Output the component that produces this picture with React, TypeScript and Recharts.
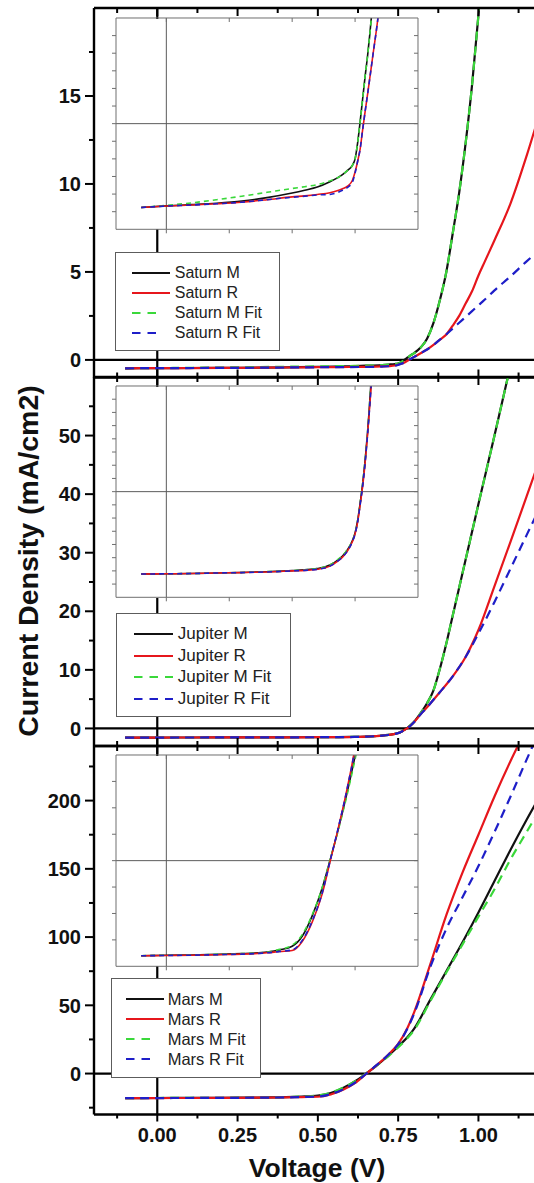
import React from 'react';
import { LineChart, Line, XAxis, YAxis, ReferenceLine, Legend } from 'recharts';

const FONT = '"Liberation Sans", Arial, Helvetica, sans-serif';

// shared voltage ticks (major every 0.25, minor in between)
const voltageTicks = [-0.125, 0, 0.125, 0.25, 0.375, 0.5, 0.625, 0.75, 0.875, 1, 1.125];
const insetVoltageTicks = [0, 0.25, 0.5, 0.75];

// Saturn
const saturnVoltage = [-0.1, 0, 0.1, 0.2, 0.3, 0.4, 0.5, 0.55, 0.6, 0.65, 0.7, 0.72, 0.74, 0.75, 0.76, 0.77, 0.78, 0.79, 0.8, 0.82, 0.84, 0.86, 0.88, 0.9, 0.92, 0.94, 0.96, 0.98, 1.0, 1.02, 1.05, 1.1, 1.15, 1.2];
const saturnM = [-0.476, -0.467, -0.46, -0.452, -0.44, -0.42, -0.394, -0.378, -0.36, -0.33, -0.29, -0.265, -0.235, -0.2, -0.11, 0.01, 0.14, 0.27, 0.39, 0.7, 1.2, 2.1, 3.4, 5.0, 7.2, 9.5, 12.3, 15.6, 19.6, 24, 31, 43, 56, 70];
const saturnMFit = [-0.476, -0.464, -0.45, -0.432, -0.412, -0.39, -0.368, -0.358, -0.346, -0.325, -0.29, -0.265, -0.235, -0.2, -0.11, 0.01, 0.14, 0.27, 0.39, 0.7, 1.2, 2.1, 3.4, 5.0, 7.2, 9.5, 12.3, 15.6, 19.6, 24, 31, 43, 56, 70];
const saturnR = [-0.476, -0.468, -0.462, -0.455, -0.446, -0.432, -0.416, -0.41, -0.402, -0.392, -0.37, -0.355, -0.32, -0.275, -0.215, -0.145, -0.035, 0.07, 0.17, 0.38, 0.59, 0.85, 1.15, 1.45, 1.95, 2.5, 3.2, 3.9, 4.8, 5.6, 6.8, 8.9, 11.6, 14.6];
const saturnRFit = [-0.476, -0.468, -0.462, -0.455, -0.446, -0.432, -0.418, -0.412, -0.405, -0.402, -0.378, -0.362, -0.33, -0.28, -0.215, -0.145, -0.035, 0.07, 0.17, 0.38, 0.59, 0.85, 1.15, 1.45, 1.78, 2.11, 2.44, 2.77, 3.1, 3.43, 3.95, 4.75, 5.6, 6.4];
const saturnYTicks = [0, 2.5, 5, 7.5, 10, 12.5, 15, 17.5];
const saturnInsetTicks = [-0.5, -0.4, -0.3, -0.2, -0.1, 0, 0.1, 0.2, 0.3, 0.4, 0.5];

// Jupiter
const jupiterVoltage = [-0.1, 0, 0.1, 0.2, 0.3, 0.4, 0.5, 0.55, 0.6, 0.65, 0.68, 0.7, 0.72, 0.74, 0.75, 0.76, 0.77, 0.78, 0.79, 0.8, 0.82, 0.84, 0.86, 0.88, 0.9, 0.92, 0.96, 1.0, 1.05, 1.1, 1.15, 1.2];
const jupiterM = [-1.56, -1.555, -1.55, -1.54, -1.53, -1.515, -1.495, -1.48, -1.455, -1.39, -1.3, -1.22, -1.1, -0.92, -0.78, -0.55, -0.22, 0.15, 0.6, 1.15, 2.6, 4.3, 6.5, 10.2, 14.5, 19.3, 28.8, 38.3, 50, 62, 74, 86];
const jupiterMFit = [-1.56, -1.555, -1.55, -1.54, -1.53, -1.515, -1.495, -1.48, -1.455, -1.39, -1.29, -1.21, -1.09, -0.92, -0.78, -0.55, -0.22, 0.15, 0.6, 1.15, 2.6, 4.3, 6.5, 10.2, 14.5, 19.3, 28.8, 38.3, 50, 62, 74, 86];
const jupiterR = [-1.56, -1.555, -1.55, -1.54, -1.532, -1.52, -1.5, -1.49, -1.47, -1.41, -1.32, -1.24, -1.12, -0.94, -0.8, -0.58, -0.25, 0.1, 0.55, 1.1, 2.4, 3.6, 4.9, 6.2, 7.5, 8.9, 12.2, 16.8, 24.3, 31.9, 39.6, 47.4];
const jupiterRFit = [-1.56, -1.555, -1.55, -1.54, -1.532, -1.52, -1.5, -1.49, -1.47, -1.41, -1.32, -1.24, -1.12, -0.94, -0.8, -0.58, -0.25, 0.1, 0.55, 1.1, 2.4, 3.6, 4.9, 6.2, 7.5, 8.9, 12.2, 16.2, 21.6, 27.3, 33, 38.7];
const jupiterYTicks = [0, 5, 10, 15, 20, 25, 30, 35, 40, 45, 50, 55];
const jupiterInsetTicks = [-1.75, -1.5, -1.25, -1, -0.75, -0.5, -0.25, 0, 0.25, 0.5, 0.75, 1, 1.25, 1.5, 1.75];

// Mars
const marsVoltage = [-0.1, 0, 0.1, 0.2, 0.3, 0.35, 0.4, 0.45, 0.5, 0.54, 0.58, 0.62, 0.65, 0.68, 0.72, 0.75, 0.78, 0.8, 0.85, 0.9, 0.95, 1.0, 1.05, 1.1, 1.15, 1.2];
const marsM = [-18.0, -17.9, -17.85, -17.75, -17.6, -17.5, -17.3, -16.9, -16.2, -14.3, -10.4, -5.1, 0, 5.3, 13.2, 19.8, 27, 33, 54, 75, 96, 118, 141, 164, 186, 207];
const marsMFit = [-18.0, -17.9, -17.85, -17.75, -17.6, -17.5, -17.3, -16.8, -16.0, -14.0, -10.2, -5.0, 0.1, 5.2, 12.8, 19.2, 26.2, 32, 53, 74, 94.5, 115, 135, 157, 177, 197];
const marsR = [-18.0, -17.95, -17.9, -17.8, -17.7, -17.6, -17.45, -17.2, -17.0, -15.3, -11.6, -6.2, -0.3, 5.5, 14, 21.7, 34, 45, 80, 116, 147, 175, 203, 229, 253, 276];
const marsRFit = [-18.0, -17.95, -17.9, -17.8, -17.7, -17.6, -17.45, -17.2, -16.9, -15.1, -11.4, -6.0, -0.2, 5.6, 14, 21.5, 33.5, 44, 78, 106, 129, 152, 177, 203, 230, 256];
const marsYTicks = [-25, 0, 25, 50, 75, 100, 125, 150, 175, 200, 225];
const marsInsetTicks = [-15, -10, -5, 0, 5, 10, 15];

const SERIES = [
  { key: 'm', suffix: 'M', color: '#111111', dash: undefined },
  { key: 'mFit', suffix: 'M Fit', color: '#3ad83a', dash: '9 6' },
  { key: 'r', suffix: 'R', color: '#e6161c', dash: undefined },
  { key: 'rFit', suffix: 'R Fit', color: '#1e1ec8', dash: '9 6' },
];
const LEGEND_ORDER = ['m', 'r', 'mFit', 'rFit'];

const PAGE_W = 534;
const PLOT_LEFT = 94;
const PAD = 10;
const X_DOMAIN = [-0.197, 1.173];
const INSET_X_DOMAIN = [-0.2, 1.0];
const INSET = { left: 115.8, width: 301, height: 210.3 };
const AXIS_LINE = { stroke: '#000', strokeWidth: 2.4 };

const panels = [
  {
    name: 'Saturn', voltage: saturnVoltage, m: saturnM, mFit: saturnMFit, r: saturnR, rFit: saturnRFit,
    yDomain: [-1, 20], yTicks: saturnYTicks, yMajor: 5,
    insetDomain: [-0.6, 0.6], insetTicks: saturnInsetTicks,
    top: 7.5, bottom: 377, insetTop: 19,
    legend: { left: 114.8, top: 251.7, width: 165, height: 99.5, sampleLeft: 16, sampleLen: 38, dashLen: 24, textLeft: 59, rowTop: 20, rowGap: 20.2, fontSize: 16 },
  },
  {
    name: 'Jupiter', voltage: jupiterVoltage, m: jupiterM, mFit: jupiterMFit, r: jupiterR, rFit: jupiterRFit,
    yDomain: [-3, 60], yTicks: jupiterYTicks, yMajor: 10,
    insetDomain: [-2, 2], insetTicks: jupiterInsetTicks,
    top: 377, bottom: 746, insetTop: 387.3,
    legend: { left: 115.8, top: 612.7, width: 175.4, height: 104, sampleLeft: 17, sampleLen: 39, dashLen: 39, textLeft: 61, rowTop: 20.8, rowGap: 21.5, fontSize: 17 },
  },
  {
    name: 'Mars', voltage: marsVoltage, m: marsM, mFit: marsMFit, r: marsR, rFit: marsRFit,
    yDomain: [-30, 240], yTicks: marsYTicks, yMajor: 50,
    insetDomain: [-20, 20], insetTicks: marsInsetTicks,
    top: 746, bottom: 1114.5, insetTop: 755.7,
    legend: { left: 110.7, top: 978.3, width: 150, height: 100, sampleLeft: 14.3, sampleLen: 38.5, dashLen: 24, textLeft: 56, rowTop: 19.6, rowGap: 20.2, fontSize: 16.5 },
  },
];

const toRows = (p: any) =>
  p.voltage.map((v: number, i: number) => ({ v, m: p.m[i], mFit: p.mFit[i], r: p.r[i], rFit: p.rFit[i] }));

const isMajor = (value: number, step: number) => Math.abs(value / step - Math.round(value / step)) < 1e-6;

function xTick(y0: number, dir: number, withLabel: boolean) {
  return (props: any) => {
    const { x, payload } = props;
    const major = isMajor(payload.value, 0.25);
    const len = withLabel ? (major ? 7 : 4) : major ? 8 : 5;
    return (
      <g>
        <line x1={x} x2={x} y1={y0} y2={y0 + dir * len} stroke="#000" strokeWidth={2} />
        {withLabel && major && (
          <text x={x} y={y0 + 27} textAnchor="middle" fontFamily={FONT} fontWeight="bold" fontSize={20} fill="#111">
            {payload.value.toFixed(2)}
          </text>
        )}
      </g>
    );
  };
}

function yTick(step: number) {
  return (props: any) => {
    const { y, payload } = props;
    const major = isMajor(payload.value, step);
    const len = major ? 9 : 5;
    return (
      <g>
        <line x1={PLOT_LEFT - len} x2={PLOT_LEFT} y1={y} y2={y} stroke="#000" strokeWidth={2} />
        {major && (
          <text x={PLOT_LEFT - 13} y={y} dy="0.36em" textAnchor="end" fontFamily={FONT} fontWeight="bold" fontSize={20} fill="#111">
            {payload.value}
          </text>
        )}
      </g>
    );
  };
}

function LegendBox({ panel }: { panel: any }) {
  const lg = panel.legend;
  return (
    <div
      style={{
        position: 'relative', boxSizing: 'border-box', width: lg.width, height: lg.height,
        border: '1.2px solid #5c5c5c', background: '#fff', fontFamily: FONT, fontSize: lg.fontSize, color: '#222',
      }}
    >
      {LEGEND_ORDER.map((key, i) => {
        const s = SERIES.find((d) => d.key === key)!;
        const cy = lg.rowTop + i * lg.rowGap;
        const len = s.dash ? lg.dashLen : lg.sampleLen;
        return (
          <React.Fragment key={key}>
            <svg style={{ position: 'absolute', left: lg.sampleLeft, top: cy - 3 }} width={len} height={6}>
              <line x1={0} x2={len} y1={3} y2={3} stroke={s.color} strokeWidth={2} strokeDasharray={s.dash ? '8.5 7' : undefined} />
            </svg>
            <span style={{ position: 'absolute', left: lg.textLeft, top: cy - 10, lineHeight: '20px', whiteSpace: 'nowrap' }}>
              {panel.name} {s.suffix}
            </span>
          </React.Fragment>
        );
      })}
    </div>
  );
}

function MainPanel({ panel, last, yTitle }: { panel: any; last: boolean; yTitle: boolean }) {
  const h = panel.bottom - panel.top;
  const below = last ? 80 : PAD;
  const chartTop = panel.top - PAD;
  const plotBottom = PAD + h;
  const lg = panel.legend;
  return (
    <div style={{ position: 'absolute', left: 0, top: chartTop }}>
      {/* x axes are 1px tall so that they render; margins take that pixel back */}
      <LineChart width={PAGE_W} height={PAD + h + below} data={toRows(panel)} margin={{ top: PAD - 1, right: 0, bottom: below - 1, left: 0 }}>
        <XAxis
          xAxisId="top" orientation="top" type="number" dataKey="v" domain={X_DOMAIN} allowDataOverflow
          height={1} ticks={voltageTicks} interval={0} tickLine={false} axisLine={AXIS_LINE} tick={xTick(PAD, 1, false)}
        />
        <XAxis
          xAxisId="bottom" orientation="bottom" type="number" dataKey="v" domain={X_DOMAIN} allowDataOverflow
          height={1} ticks={voltageTicks} interval={0} tickLine={false} axisLine={AXIS_LINE}
          tick={xTick(plotBottom, last ? 1 : -1, last)}
          label={
            last
              ? {
                  content: () => (
                    <text x={317} y={441} textAnchor="middle" fontFamily={FONT} fontWeight="bold" fontSize={26.5} fill="#111">
                      Voltage (V)
                    </text>
                  ),
                }
              : undefined
          }
        />
        <YAxis
          yAxisId="left" type="number" domain={panel.yDomain} allowDataOverflow width={PLOT_LEFT}
          ticks={panel.yTicks} interval={0} tickLine={false} axisLine={AXIS_LINE} tick={yTick(panel.yMajor)}
          label={
            yTitle
              ? {
                  content: () => (
                    <text
                      x={28} y={194} transform="rotate(-90 28 194)" textAnchor="middle" dominantBaseline="central"
                      fontFamily={FONT} fontWeight="bold" fontSize={28.5} fill="#111"
                    >
                      Current Density (mA/cm2)
                    </text>
                  ),
                }
              : undefined
          }
        />
        <ReferenceLine xAxisId="bottom" yAxisId="left" x={0} stroke="#000" strokeWidth={2.2} />
        <ReferenceLine xAxisId="bottom" yAxisId="left" y={0} stroke="#000" strokeWidth={2.2} />
        {SERIES.map((s) => (
          <Line
            key={s.key} xAxisId="bottom" yAxisId="left" type="monotone" dataKey={s.key} name={`${panel.name} ${s.suffix}`}
            stroke={s.color} strokeWidth={2.2} strokeDasharray={s.dash} dot={false} activeDot={false} isAnimationActive={false}
          />
        ))}
        <Legend
          layout="vertical" align="center" verticalAlign="middle"
          wrapperStyle={{ left: lg.left, top: lg.top - chartTop, width: lg.width, height: lg.height }}
          content={() => <LegendBox panel={panel} />}
        />
      </LineChart>
    </div>
  );
}

function Inset({ panel }: { panel: any }) {
  const gray = '#6e6e6e';
  const common = { type: 'number' as const, allowDataOverflow: true, interval: 0 as const, stroke: gray, tickSize: 4, tickFormatter: () => '' };
  return (
    <div style={{ position: 'absolute', left: INSET.left, top: panel.insetTop, width: INSET.width, height: INSET.height, background: '#fff' }}>
      <div style={{ position: 'absolute', left: -PAD, top: -PAD }}>
        <LineChart
          width={INSET.width + 2 * PAD} height={INSET.height + 2 * PAD} data={toRows(panel)}
          margin={{ top: PAD - 1, right: PAD - 1, bottom: PAD - 1, left: PAD - 1 }}
        >
          <XAxis xAxisId="b" dataKey="v" domain={INSET_X_DOMAIN} height={1} ticks={insetVoltageTicks} {...common} />
          <XAxis xAxisId="t" orientation="top" mirror dataKey="v" domain={INSET_X_DOMAIN} height={1} ticks={insetVoltageTicks} {...common} />
          <YAxis yAxisId="l" domain={panel.insetDomain} width={1} ticks={panel.insetTicks} {...common} />
          <YAxis yAxisId="r" orientation="right" mirror domain={panel.insetDomain} width={1} ticks={panel.insetTicks} {...common} />
          <ReferenceLine xAxisId="b" yAxisId="l" x={0} stroke="#5a5a5a" strokeWidth={1} />
          <ReferenceLine xAxisId="b" yAxisId="l" y={0} stroke="#5a5a5a" strokeWidth={1} />
          {SERIES.map((s) => (
            <Line
              key={s.key} xAxisId="b" yAxisId="l" type="monotone" dataKey={s.key}
              stroke={s.color} strokeWidth={1.6} strokeDasharray={s.dash ? '5 4' : undefined}
              dot={false} activeDot={false} isAnimationActive={false}
            />
          ))}
        </LineChart>
      </div>
    </div>
  );
}

export default function App() {
  return (
    <div style={{ position: 'absolute', left: 0, top: 0, width: PAGE_W, height: 1183, overflow: 'hidden', background: '#fff' }}>
      {panels.map((p, i) => (
        <MainPanel key={p.name} panel={p} last={i === panels.length - 1} yTitle={i === 1} />
      ))}
      {panels.map((p) => (
        <Inset key={p.name} panel={p} />
      ))}
    </div>
  );
}
